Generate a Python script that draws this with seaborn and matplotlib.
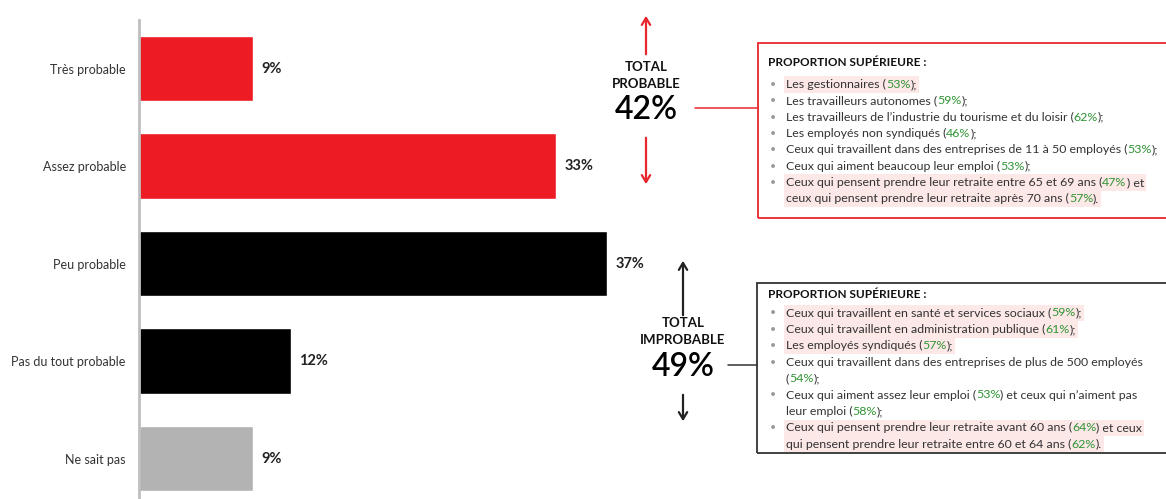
import matplotlib
matplotlib.use("Agg")
import matplotlib.pyplot as plt
import seaborn as sns
from matplotlib.patches import Rectangle

# ---------------- data ----------------
categories = ["Très probable", "Assez probable", "Peu probable", "Pas du tout probable", "Ne sait pas"]
values = [9, 33, 37, 12, 9]
bar_colors = ["#ED1C24", "#ED1C24", "#000000", "#000000", "#B3B3B3"]

total_probable_label = ["TOTAL", "PROBABLE"]
total_probable_value = "42%"
total_improbable_label = ["TOTAL", "IMPROBABLE"]
total_improbable_value = "49%"

box_title = "PROPORTION SUPÉRIEURE :"
# each line: (bullet, highlight, [(text, is_pct), ...])
probable_lines = [
    (True, True, [("Les gestionnaires (", False), ("53%", True), (");", False)]),
    (True, False, [("Les travailleurs autonomes (", False), ("59%", True), (");", False)]),
    (True, False, [("Les travailleurs de l’industrie du tourisme et du loisir (", False), ("62%", True), (");", False)]),
    (True, False, [("Les employés non syndiqués (", False), ("46%", True), (");", False)]),
    (True, False, [("Ceux qui travaillent dans des entreprises de 11 à 50 employés (", False), ("53%", True), (");", False)]),
    (True, False, [("Ceux qui aiment beaucoup leur emploi (", False), ("53%", True), (");", False)]),
    (True, True, [("Ceux qui pensent prendre leur retraite entre 65 et 69 ans (", False), ("47%", True), (") et", False)]),
    (False, True, [("ceux qui pensent prendre leur retraite après 70 ans (", False), ("57%", True), (").", False)]),
]
improbable_lines = [
    (True, True, [("Ceux qui travaillent en santé et services sociaux (", False), ("59%", True), (");", False)]),
    (True, True, [("Ceux qui travaillent en administration publique (", False), ("61%", True), (");", False)]),
    (True, True, [("Les employés syndiqués (", False), ("57%", True), (");", False)]),
    (True, False, [("Ceux qui travaillent dans des entreprises de plus de 500 employés", False)]),
    (False, False, [("(", False), ("54%", True), (");", False)]),
    (True, False, [("Ceux qui aiment assez leur emploi (", False), ("53%", True), (") et ceux qui n’aiment pas", False)]),
    (False, False, [("leur emploi (", False), ("58%", True), (");", False)]),
    (True, True, [("Ceux qui pensent prendre leur retraite avant 60 ans (", False), ("64%", True), (") et ceux", False)]),
    (False, True, [("qui pensent prendre leur retraite entre 60 et 64 ans (", False), ("62%", True), (").", False)]),
]

# ---------------- style ----------------
sns.set_theme(style="white")
plt.rcParams["font.family"] = ["Lato", "DejaVu Sans"]

W, H = 1166, 499
fig = plt.figure(figsize=(W / 100, H / 100), dpi=100)

def fx(x):
    return x / W

def fy(y):
    return 1 - y / H

ax = fig.add_axes([fx(139), 0, (W - 139) / W, (H - 19.75) / H])
sns.barplot(x=values, y=categories, hue=categories, palette=bar_colors,
            width=0.67, legend=False, ax=ax, saturation=1, orient="h")
ax.set_xlim(0, (W - 139) / 12.65)
ax.set_ylim(4.415, -0.5)
for s in ["top", "right", "bottom"]:
    ax.spines[s].set_visible(False)
ax.spines["left"].set_color("#BFBFBF")
ax.spines["left"].set_linewidth(2)
ax.set_xticks([])
ax.set_xlabel("")
ax.set_ylabel("")
ax.tick_params(axis="y", length=0, pad=9.5, labelsize=9, labelcolor="#333333")

for i, v in enumerate(values):
    ax.text(v + 0.65, i, f"{v}%", va="center", ha="left", fontsize=10.5,
            fontweight="bold", color="#222222")

# ---------------- annotations ----------------
RED = "#E8262D"
DARK = "#222222"

def arrow(x, y0, y1, color):
    fig.add_artist(matplotlib.patches.FancyArrowPatch(
        (fx(x), fy(y0)), (fx(x), fy(y1)), transform=fig.transFigure,
        arrowstyle="->,head_length=5,head_width=3", color=color, lw=1.6,
        mutation_scale=1))

arrow(646, 57, 13, RED)
arrow(646, 135, 187, RED)
arrow(683, 318, 258, DARK)
arrow(683, 392, 424, DARK)

fig.text(fx(646), fy(67), total_probable_label[0], ha="center", va="center",
         fontsize=9.5, fontweight="bold", color="#111111")
fig.text(fx(646), fy(84), total_probable_label[1], ha="center", va="center",
         fontsize=9.5, fontweight="bold", color="#111111")
fig.text(fx(646), fy(110), total_probable_value, ha="center", va="center",
         fontsize=23, fontweight="semibold", color="#000000")
fig.text(fx(683), fy(323), total_improbable_label[0], ha="center", va="center",
         fontsize=9.5, fontweight="bold", color="#111111")
fig.text(fx(683), fy(340), total_improbable_label[1], ha="center", va="center",
         fontsize=9.5, fontweight="bold", color="#111111")
fig.text(fx(683), fy(367), total_improbable_value, ha="center", va="center",
         fontsize=23, fontweight="semibold", color="#000000")

# connectors
fig.add_artist(matplotlib.lines.Line2D([fx(695), fx(758)], [fy(108), fy(108)],
                                       color=RED, lw=1.1))
fig.add_artist(matplotlib.lines.Line2D([fx(728), fx(757)], [fy(365), fy(365)],
                                       color="#333333", lw=1.1))

# boxes
fig.add_artist(Rectangle((fx(758), fy(218)), fx(1180 - 758), (218 - 43) / H,
                         transform=fig.transFigure, fill=False, ec=RED, lw=1.3))
fig.add_artist(Rectangle((fx(757), fy(453)), fx(1180 - 757), (453 - 283) / H,
                         transform=fig.transFigure, fill=False, ec="#333333", lw=1.3))

renderer = fig.canvas.get_renderer()
GREEN = "#2F9433"
HL = "#FDE8E8"
FS = 8.95

def text_width(s):
    """Advance width (px) of s, including trailing side bearing."""
    probe = fig.text(0, 0, s + "l", fontsize=FS)
    ref = fig.text(0, 0, "l", fontsize=FS)
    w = probe.get_window_extent(renderer).width - ref.get_window_extent(renderer).width
    probe.remove()
    ref.remove()
    return w

def draw_box(title_y, first_y, step, lines, title_x=768, bullet_x=770, text_x=786):
    fig.text(fx(title_x), fy(title_y), box_title, ha="left", va="center",
             fontsize=8.5, fontweight="bold", color="#111111")
    for k, (bullet, hl, segs) in enumerate(lines):
        y = first_y + k * step
        if bullet:
            fig.text(fx(bullet_x), fy(y), "•", ha="left", va="center",
                     fontsize=FS - 1.5, color="#999999")
        prefix = ""
        for txt, pct in segs:
            x = text_x + (text_width(prefix) if prefix else 0)
            fig.text(fx(x), fy(y), txt, ha="left", va="center", fontsize=FS,
                     color=GREEN if pct else "#333333", zorder=3)
            prefix += txt
        end = text_x + text_width(prefix)
        if hl:
            fig.add_artist(Rectangle((fx(text_x - 2), fy(y + 8.2)), fx(end + 2 - (text_x - 2)),
                                     16.4 / H, transform=fig.transFigure,
                                     fc=HL, ec="none", zorder=1))

draw_box(63, 84.5, 16.3, probable_lines)
draw_box(295, 313, 16.4, improbable_lines)

fig.savefig("out.png", dpi=100)
